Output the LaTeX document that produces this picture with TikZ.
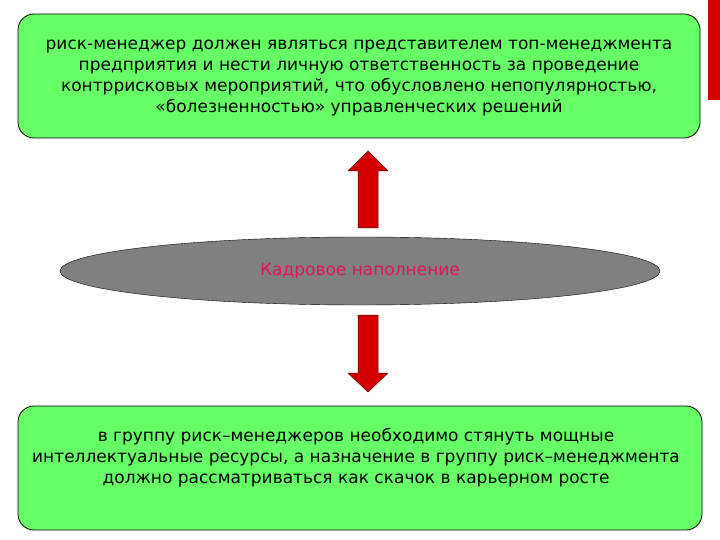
\documentclass[tikz,border=0pt]{standalone}
\usepackage{fontspec}
\setmainfont{DejaVu Sans}
\usetikzlibrary{shapes.geometric}
\definecolor{boxgreen}{HTML}{66FF66}
\definecolor{arrred}{HTML}{D40000}
\definecolor{ellgrey}{HTML}{808080}
\definecolor{txtred}{HTML}{E0105A}
\begin{document}
\begin{tikzpicture}[x=1pt,y=-1pt,
  gbox/.style={draw=black,line width=0.8pt,fill=boxgreen,rounded corners=16pt},
  btext/.style={align=center,font=\fontsize{17}{21}\selectfont,text=black},
  rarrow/.style={draw=black!70!red,line width=0.5pt,fill=arrred}]
\useasboundingbox (0,0) rectangle (720,540);
\fill[white] (0,0) rectangle (720,540);
\fill[arrred] (708,0) rectangle (720,100);
\draw[gbox] (18,14) rectangle (700,138);
\node[btext] (top) at (359,78) {риск-менеджер должен являться представителем топ-менеджмента\\предприятия и нести личную ответственность за проведение\\контррисковых мероприятий, что обусловлено непопулярностью,\\«болезненностью» управленческих решений};
\draw[gbox] (18,406) rectangle (702,530);
\node[btext] (bot) at (356,458) {в группу риск–менеджеров необходимо стянуть мощные\\интеллектуальные ресурсы, а назначение в группу риск–менеджмента\\должно рассматриваться как скачок в карьерном росте};
\node[ellipse,draw=black,fill=ellgrey,minimum width=600pt,minimum height=68pt,inner sep=0pt] (ell) at (360,271) {};
\node[text=txtred,font=\fontsize{17}{20}\selectfont] (lab) at (ell) {Кадровое наполнение};
\draw[rarrow] (358,228) -- (358,171) -- (348,171) -- (368,151) -- (388,171) -- (378,171) -- (378,228) -- cycle;
\draw[rarrow] (358,315) -- (358,373) -- (348,373) -- (368,392) -- (388,373) -- (378,373) -- (378,315) -- cycle;
\end{tikzpicture}
\end{document}
